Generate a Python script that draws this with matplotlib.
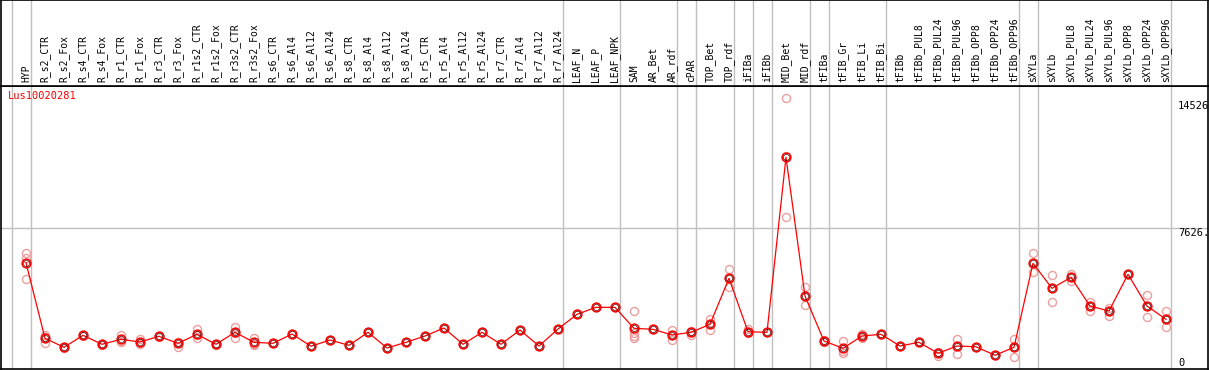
import matplotlib.pyplot as plt
from matplotlib import transforms

plt.rcParams['font.family'] = ['DejaVu Sans Mono']

gene = 'Lus10020281'

samples = ['HYP', 'R_s2_CTR', 'R_s2_Fox', 'R_s4_CTR', 'R_s4_Fox', 'R_r1_CTR',
           'R_r1_Fox', 'R_r3_CTR', 'R_r3_Fox', 'R_r1s2_CTR', 'R_r1s2_Fox',
           'R_r3s2_CTR', 'R_r3s2_Fox', 'R_s6_CTR', 'R_s6_Al4', 'R_s6_Al12',
           'R_s6_Al24', 'R_s8_CTR', 'R_s8_Al4', 'R_s8_Al12', 'R_s8_Al24',
           'R_r5_CTR', 'R_r5_Al4', 'R_r5_Al12', 'R_r5_Al24', 'R_r7_CTR',
           'R_r7_Al4', 'R_r7_Al12', 'R_r7_Al24', 'LEAF_N', 'LEAF_P', 'LEAF_NPK',
           'SAM', 'AR_Bet', 'AR_rdf', 'cPAR', 'TOP_Bet', 'TOP_rdf', 'iFIBa',
           'iFIBb', 'MID_Bet', 'MID_rdf', 'tFIBa', 'tFIB_Gr', 'tFIB_Li',
           'tFIB_Bi', 'tFIBb', 'tFIBb_PUL8', 'tFIBb_PUL24', 'tFIBb_PUL96',
           'tFIBb_OPP8', 'tFIBb_OPP24', 'tFIBb_OPP96', 'sXYLa', 'sXYLb',
           'sXYLb_PUL8', 'sXYLb_PUL24', 'sXYLb_PUL96', 'sXYLb_OPP8',
           'sXYLb_OPP24', 'sXYLb_OPP96']

# mean expression per sample
means = [5736, 1618, 1128, 1781, 1291, 1563, 1416, 1727, 1345, 1836, 1291,
         1945, 1400, 1345, 1852, 1187, 1525, 1236, 1945, 1089, 1400, 1743,
         2179, 1291, 1945, 1291, 2070, 1198, 2124, 2925, 3306, 3306, 2162,
         2108, 1797, 1945, 2380, 4886, 1977, 1945, 11477, 3922, 1471, 1073,
         1743, 1836, 1198, 1400, 801, 1198, 1160, 692, 1128, 5703, 4341,
         4940, 3377, 3105, 5104, 3377, 2653]

# replicate values per sample
reps = [[6250, 5990, 4830], [1800, 1380, 1680], [1100, 1130, 1150],
        [1760, 1790, 1800], [1270, 1300, 1300], [1800, 1420, 1470],
        [1560, 1310, 1380], [1710, 1730, 1740], [1430, 1160, 1440],
        [2110, 1620, 1780], [1280, 1290, 1300], [2250, 1650, 1930],
        [1620, 1310, 1280], [1340, 1350], [1850, 1860], [1180, 1190],
        [1520, 1530], [1230, 1240], [1940, 1950], [1080, 1090], [1400, 1400],
        [1740, 1750], [2170, 2180], [1290, 1290], [1940, 1950], [1290, 1290],
        [2070, 2070], [1190, 1200], [2120, 2130], [2920, 2930], [3300, 3310],
        [3300, 3310], [3105, 1890, 1740, 1620], [2100, 2110], [2070, 1525, 1800],
        [2030, 1800, 1950], [2670, 2070, 2380], [5380, 4400, 4880],
        [2110, 1920, 1980], [1940, 1950], [14690, 8210, 11530],
        [4430, 3430, 3920], [1500, 1430, 1470], [1470, 830, 940],
        [1630, 1850, 1740], [1830, 1840], [1190, 1200], [1400, 1400],
        [890, 650, 800], [1560, 750, 1200], [1160, 1160], [690, 700],
        [1560, 620, 1130], [6250, 5250, 5700], [5050, 3600, 4340],
        [5120, 4720, 4940], [3610, 3100, 3380], [3290, 2830, 3100],
        [5100, 5110], [3960, 2790, 3380], [3100, 2220, 2650]]

# group boundaries (line drawn just after these sample indices)
group_ends = [-1, 0, 28, 31, 34, 35, 37, 38, 39, 41, 42, 45, 52, 53, 60]

W, H = 1209, 370
fig = plt.figure(figsize=(W / 100, H / 100), dpi=100)
ax = fig.add_axes([1 / W, 1 / H, 1207 / W, 283 / H])
axh = fig.add_axes([1 / W, 284 / H, 1207 / W, 86 / H], sharex=ax)

x = list(range(len(samples)))

# replicates
for i, r in enumerate(reps):
    ax.plot([i] * len(r), r, 'o', ms=5.8, mfc='none', mec='#eba0a0', mew=1.0, zorder=2)

# means
ax.plot(x, means, '-', color='red', lw=0.9, zorder=3)
ax.plot(x, means, 'o', ms=6.3, mfc='none', mec='red', mew=1.1, zorder=4)
ax.plot(x, means, 'o', ms=4.4, mfc='none', mec='#400000', mew=0.45, zorder=5)

ax.axhline(7626, color='#c0c0c0', lw=1, zorder=1)
for g in group_ends:
    ax.axvline(g + 5 / 19, color='#c0c0c0', lw=1, zorder=1)
    axh.axvline(g + 5 / 19, color='#c0c0c0', lw=1, zorder=1)

ax.set_xlim((1 - 26) / 19, (1208 - 26) / 19)
ax.set_ylim(-54, 15361)
ax.set_xticks([])
ax.set_yticks([])
axh.set_yticks([])
axh.tick_params(bottom=False, labelbottom=False)

for sp in list(ax.spines.values()) + list(axh.spines.values()):
    sp.set_color('black')
    sp.set_linewidth(1.2)

for i, s in enumerate(samples):
    axh.text(i, 4 / 86, s, rotation=90, ha='center', va='bottom',
             fontsize=7, transform=axh.get_xaxis_transform())

bt = transforms.blended_transform_factory(ax.transAxes, ax.transData)
ax.text(1177 / 1207, 14526, '14526', ha='left', va='top', fontsize=7.5, transform=bt)
ax.text(1177 / 1207, 7626, '7626.', ha='left', va='top', fontsize=7.5, transform=bt)
ax.text(1177 / 1207, 0, '0', ha='left', va='bottom', fontsize=7.5, transform=bt)

ax.text(7 / 1207, 1 - 5 / 283, gene, color='red', ha='left', va='top',
        fontsize=7.5, transform=ax.transAxes)

fig.savefig('out.png', dpi=100)
